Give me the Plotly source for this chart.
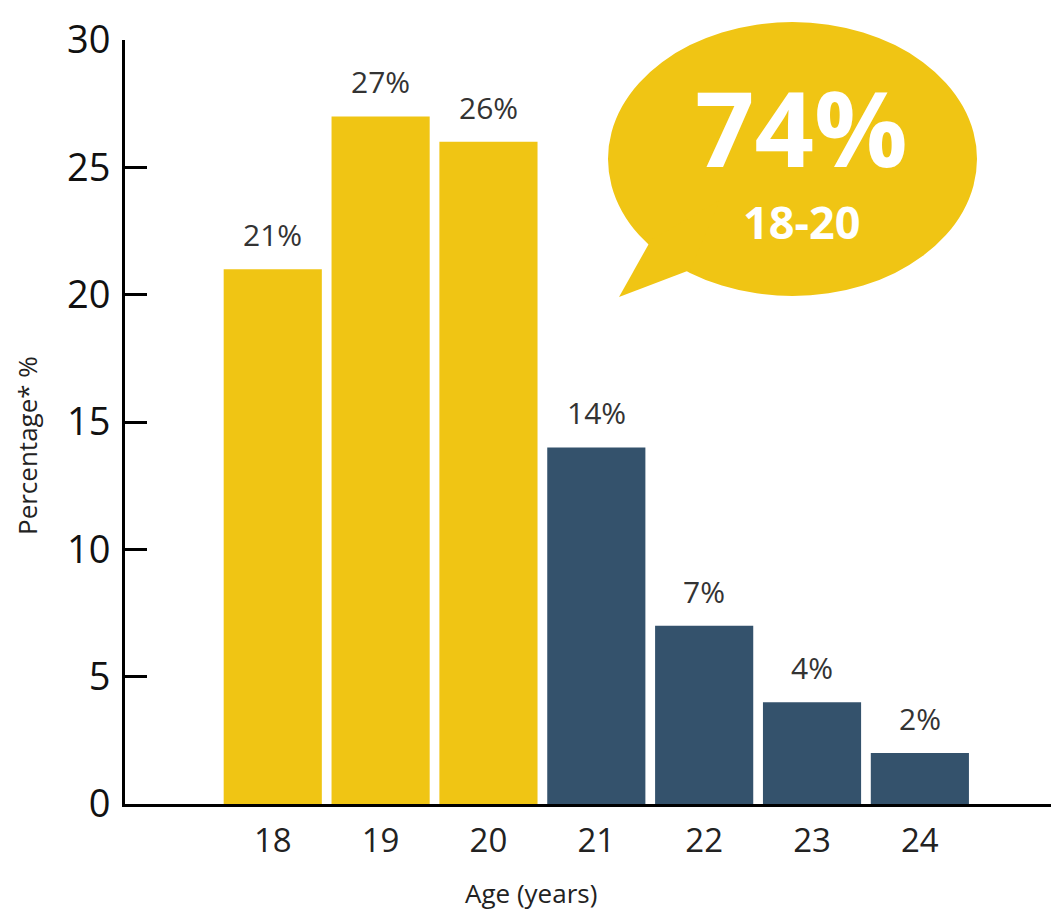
import plotly.graph_objects as go

ages = [18, 19, 20, 21, 22, 23, 24]
percent = [21, 27, 26, 14, 7, 4, 2]
bar_colors = ["#F0C514", "#F0C514", "#F0C514", "#34526C", "#34526C", "#34526C", "#34526C"]
y_ticks = [0, 5, 10, 15, 20, 25, 30]
bubble_big = "74%"
bubble_small = "18-20"

# the page body has an 8px margin, so the figure is placed at (8, 8)
OFF = 8
W, H = 1059 - OFF, 913 - OFF
L, R, T, B = 125 - OFF, 0, 40 - OFF, 913 - 804
pw, ph = W - L - R, H - T - B

def px(x):  # page pixel -> paper
    return (x - OFF - L) / pw

def py(y):
    return (H - B - (y - OFF)) / ph

fig = go.Figure()
fig.add_trace(go.Bar(
    x=ages, y=percent, marker=dict(color=bar_colors, line=dict(width=0)),
    width=0.91, hoverinfo="skip",
))

annotations = []
for a, v in zip(ages, percent):
    annotations.append(dict(
        x=a, y=v, xref="x", yref="y", text=f"{v}%", showarrow=False,
        yanchor="bottom", yshift=12,
        font=dict(family="Open Sans", size=30, color="#333333"),
    ))

# speech bubble
shapes = [
    dict(type="circle", xref="paper", yref="paper",
         x0=px(608), x1=px(977), y0=py(296), y1=py(22),
         fillcolor="#F0C514", line=dict(width=0), layer="above"),
    dict(type="path", xref="paper", yref="paper",
         path=f"M {px(651)},{py(240)} L {px(619)},{py(297)} L {px(690)},{py(270)} L {px(720)},{py(200)} Z",
         fillcolor="#F0C514", line=dict(width=0), layer="above"),
]
annotations.append(dict(
    x=px(801), y=py(126), xref="paper", yref="paper", text=f"<b>{bubble_big}</b>",
    showarrow=False, xanchor="center", yanchor="middle",
    font=dict(family="Open Sans", size=104, color="white"),
))
annotations.append(dict(
    x=px(801), y=py(222), xref="paper", yref="paper", text=f"<b>{bubble_small}</b>",
    showarrow=False, xanchor="center", yanchor="middle",
    font=dict(family="Open Sans", size=45, color="white"),
))
# axis titles
annotations.append(dict(
    x=px(531), y=py(893), xref="paper", yref="paper", text="Age (years)",
    showarrow=False, xanchor="center", yanchor="middle",
    font=dict(family="Open Sans", size=26, color="#222222"),
))
annotations.append(dict(
    x=px(27), y=py(446), xref="paper", yref="paper", text="Percentage* %",
    showarrow=False, xanchor="center", yanchor="middle", textangle=-90,
    borderpad=0,
    font=dict(family="Open Sans", size=26, color="#222222"),
))

fig.update_layout(
    width=W, height=H,
    margin=dict(l=L, r=R, t=T, b=B, pad=0),
    paper_bgcolor="white", plot_bgcolor="white",
    showlegend=False,
    shapes=shapes, annotations=annotations,
    xaxis=dict(
        range=[16.63, 25.29], tickmode="array", tickvals=ages,
        ticktext=[str(a) for a in ages], showgrid=False, zeroline=False,
        showline=True, linewidth=3, linecolor="black", ticks="",
        tickfont=dict(family="Open Sans", size=33, color="#222222"),
        ticklabelstandoff=5,
    ),
    yaxis=dict(
        range=[0, 30], tickmode="array", tickvals=y_ticks,
        showgrid=False, zeroline=False,
        showline=True, linewidth=3, linecolor="black",
        ticks="inside", ticklen=22, tickwidth=3, tickcolor="black",
        tickfont=dict(family="Open Sans", size=38, color="#111111"),
        ticklabelstandoff=4,
    ),
)

fig.write_html("out.html")
